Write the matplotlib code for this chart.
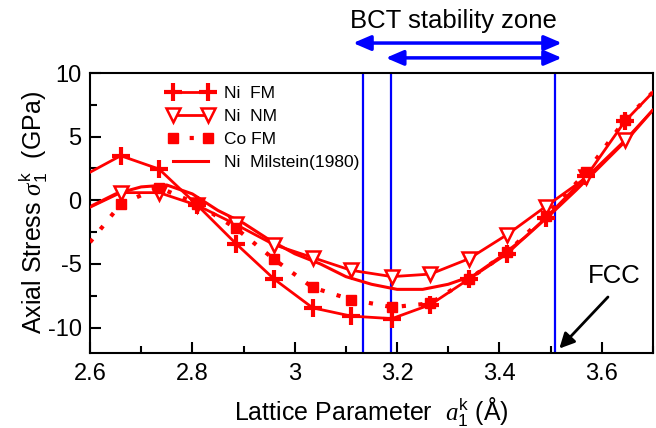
import matplotlib
matplotlib.use("Agg")
import matplotlib.pyplot as plt
from matplotlib.ticker import MultipleLocator

plt.rcParams['font.family'] = ['Liberation Sans', 'DejaVu Sans']
plt.rcParams['mathtext.fontset'] = 'custom'
plt.rcParams['mathtext.rm'] = 'Liberation Sans'
plt.rcParams['mathtext.it'] = 'Liberation Serif:italic'
plt.rcParams['mathtext.sf'] = 'Liberation Sans'
plt.rcParams['axes.unicode_minus'] = False

# ---- data ----
# Ni FM (first and last points are the line ends at the axes edges)
x_ni_fm = [2.60, 2.66, 2.735, 2.81, 2.885, 2.96, 3.035, 3.11, 3.19, 3.265, 3.34, 3.415, 3.49, 3.57, 3.645, 3.70]
y_ni_fm = [2.2, 3.5, 2.45, -0.4, -3.4, -6.2, -8.45, -9.1, -9.3, -8.2, -6.2, -4.2, -1.4, 1.9, 6.2, 8.5]

x_ni_nm = [2.60, 2.66, 2.735, 2.81, 2.885, 2.96, 3.035, 3.11, 3.19, 3.265, 3.34, 3.415, 3.49, 3.57, 3.645, 3.70]
y_ni_nm = [-0.55, 0.6, 0.6, -0.4, -1.9, -3.5, -4.5, -5.5, -6.0, -5.8, -4.6, -2.7, -0.5, 1.8, 4.7, 7.1]

x_co_fm = [2.60, 2.66, 2.735, 2.81, 2.885, 2.96, 3.035, 3.11, 3.19, 3.265, 3.34, 3.415, 3.49, 3.57, 3.645, 3.70]
y_co_fm = [-3.3, -0.3, 1.0, -0.3, -2.2, -4.65, -6.85, -7.8, -8.4, -8.1, -6.2, -4.1, -1.2, 2.2, 6.3, 8.5]

x_milstein = [2.60, 2.65, 2.70, 2.75, 2.80, 2.85, 2.90, 2.95, 3.00, 3.05, 3.10, 3.15,
              3.20, 3.25, 3.30, 3.35, 3.40, 3.45, 3.50, 3.55, 3.60, 3.65, 3.70]
y_milstein = [-0.5, 0.5, 1.05, 1.2, 0.5, -0.8, -1.8, -3.1, -4.2, -5.0, -6.0, -6.6,
              -7.0, -7.0, -6.6, -5.9, -4.5, -2.9, -1.1, 0.8, 2.8, 4.8, 7.1]

bct_lines = [3.133, 3.188, 3.508]
bct_arrows = [(3.114, 3.522), (3.178, 3.522)]

xticks = [2.6, 2.8, 3.0, 3.2, 3.4, 3.6]
xticklabels = ['2.6', '2.8', '3', '3.2', '3.4', '3.6']
yticks = [-10, -5, 0, 5, 10]

red = '#ff0000'
blue = '#0000ff'

fig = plt.figure(figsize=(6.56, 4.28), dpi=100)
ax = fig.add_axes([90/656, 1-353/428, 563/656, 280/428])

ax.plot(x_ni_fm, y_ni_fm, color=red, lw=2, marker='+', ms=13, mew=3,
        markevery=slice(1, -1), label='Ni  FM', zorder=3)
ax.plot(x_ni_nm, y_ni_nm, color=red, lw=2, marker='v', ms=10, mew=1.8,
        mfc='white', markevery=slice(1, -1), label='Ni  NM', zorder=3)
ax.plot(x_co_fm, y_co_fm, color=red, lw=3, ls=(0, (1, 3)), marker='s', ms=6.5,
        markevery=slice(1, -1), label='Co FM', zorder=3)
ax.plot(x_milstein, y_milstein, color=red, lw=2.2, label='Ni  Milstein(1980)', zorder=2)

for xv in bct_lines:
    ax.axvline(xv, color=blue, lw=1.6, zorder=1)

tr = ax.get_xaxis_transform()
for (x0, x1), yy in zip(bct_arrows, [1.107, 1.054]):
    ax.annotate('', xy=(x0, yy), xytext=(x1, yy), xycoords=tr, textcoords=tr,
                arrowprops=dict(arrowstyle='<|-|>,head_length=0.7,head_width=0.3',
                                color=blue, lw=2.5, shrinkA=0, shrinkB=0,
                                mutation_scale=15),
                annotation_clip=False)
fig.text(453/656, 1-21/428, 'BCT stability zone', ha='center', va='center', fontsize=18.5)

ax.text(3.625, -5.98, 'FCC', ha='center', va='center', fontsize=18.5)
ax.annotate('', xy=(3.517, -11.65), xytext=(3.612, -7.6),
            arrowprops=dict(arrowstyle='-|>,head_length=0.6,head_width=0.3',
                            color='black', lw=2, shrinkA=0, shrinkB=0, mutation_scale=15))

ax.set_xlim(2.6, 3.7)
ax.set_ylim(-12, 10)
ax.set_xticks(xticks)
ax.set_xticklabels(xticklabels)
ax.set_yticks(yticks)
ax.xaxis.set_minor_locator(MultipleLocator(0.1))
ax.yaxis.set_minor_locator(MultipleLocator(2.5))
ax.tick_params(which='both', direction='in', labelsize=17, width=1.5, top=False, right=False)
ax.tick_params(which='major', length=8)
ax.tick_params(which='minor', length=5)
ax.tick_params(axis='x', which='major', pad=7)
ax.tick_params(axis='y', which='major', pad=6)
for s in ax.spines.values():
    s.set_linewidth(1.5)

ax.set_xlabel(r'Lattice Parameter  $a_1^{\mathrm{k}}$ (Å)', fontsize=18, labelpad=8)
ax.set_ylabel(r'Axial Stress $\sigma_1^{\mathrm{k}}$  (GPa)', fontsize=18, labelpad=-2)

leg = ax.legend(loc='upper left', bbox_to_anchor=(0.12, 0.99), frameon=False, fontsize=12.5,
                numpoints=2, handlelength=2.6, labelspacing=0.45, handletextpad=0.6,
                borderaxespad=0.2)

fig.savefig('out.png', dpi=100)
